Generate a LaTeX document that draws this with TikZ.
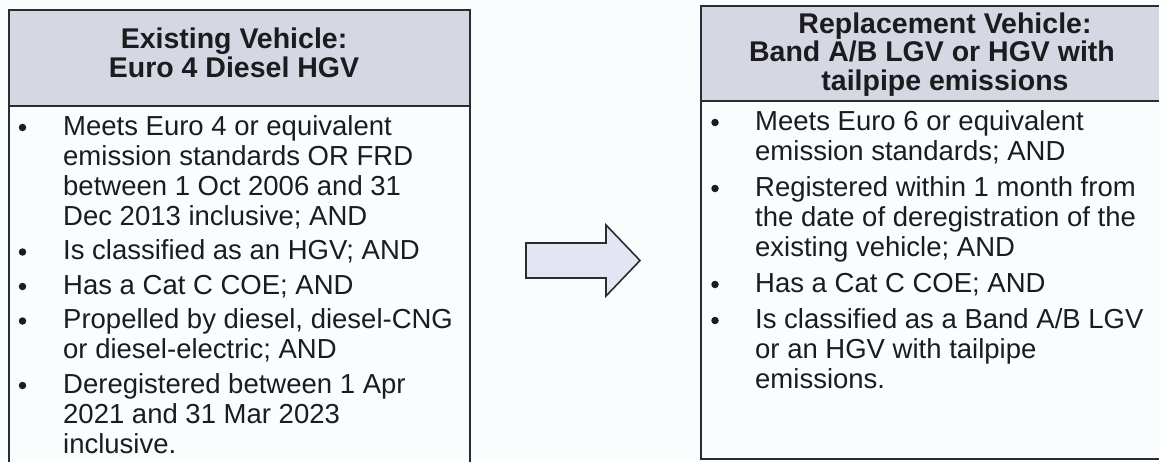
\documentclass[tikz,border=0pt]{standalone}
\usepackage{fontspec}
\setmainfont{Liberation Sans}
\definecolor{bgcol}{HTML}{FAFDFD}
\definecolor{hdrfill}{HTML}{D5D8E3}
\definecolor{arrfill}{HTML}{E3E5F2}
\definecolor{linecol}{HTML}{2A2C30}
\definecolor{txtcol}{HTML}{1C1C1E}
\begin{document}
\begin{tikzpicture}[x=1pt,y=-1pt,
  frame/.style={draw=linecol, line width=1.7pt},
  bodytxt/.style={anchor=base west, inner sep=0pt, font=\fontsize{27.5}{30}\selectfont, text=txtcol},
  hdtxt/.style={anchor=base, inner sep=0pt, font=\bfseries\fontsize{28.5}{30}\selectfont, text=txtcol},
  bul/.style={circle, fill=txtcol, inner sep=0pt, minimum size=7.5pt},
  blockarrow/.style={draw=linecol, line width=1.6pt, fill=arrfill, line join=miter}]
\useasboundingbox (0,0) rectangle (1159,461);
\clip (0,0) rectangle (1159,461);
\fill[bgcol] (0,0) rectangle (1159,461);
% left box
\fill[hdrfill] (9,10) rectangle (470,106);
\draw[frame] (9,480) -- (9,10) -- (470,10) -- (470,480);
\draw[frame] (9,106) -- (470,106);
\node[hdtxt] (lh1) at (234,48) {Existing Vehicle:};
\node[hdtxt] (lh2) at (234,77) {Euro 4 Diesel HGV};
% left bullets
\node[bul] (lb1) at (22.5,127.5) {};
\node[bodytxt] (l1) at (63,135) {Meets Euro 4 or equivalent};
\node[bodytxt] (l2) at (63,165) {emission standards OR FRD};
\node[bodytxt] (l3) at (63,195) {between 1 Oct 2006 and 31};
\node[bodytxt] (l4) at (63,225) {Dec 2013 inclusive; AND};
\node[bul] (lb2) at (22.5,252) {};
\node[bodytxt] (l5) at (63,259.5) {Is classified as an HGV; AND};
\node[bul] (lb3) at (22.5,286.5) {};
\node[bodytxt] (l6) at (63,294) {Has a Cat C COE; AND};
\node[bul] (lb4) at (22.5,321) {};
\node[bodytxt] (l7) at (63,328.5) {Propelled by diesel, diesel-CNG};
\node[bodytxt] (l8) at (63,358.5) {or diesel-electric; AND};
\node[bul] (lb5) at (22.5,385.5) {};
\node[bodytxt] (l9) at (63,393) {Deregistered between 1 Apr};
\node[bodytxt] (l10) at (63,423) {2021 and 31 Mar 2023};
\node[bodytxt] (l11) at (63,453) {inclusive.};
% arrow
\draw[blockarrow] (526,243) -- (606,243) -- (606,225) -- (640,260.5) -- (606,296) -- (606,278) -- (526,278) -- cycle;
% right box
\fill[hdrfill] (701,6) rectangle (1185,101);
\draw[frame] (701,459) rectangle (1185,6);
\draw[frame] (701,101) -- (1185,101);
\node[hdtxt] (rh1) at (945,33) {Replacement Vehicle:};
\node[hdtxt] (rh2) at (932,61.5) {Band A/B LGV or HGV with};
\node[hdtxt] (rh3) at (945,90) {tailpipe emissions};
\node[bul] (rb1) at (715,122.5) {};
\node[bodytxt] (r1) at (755,130) {Meets Euro 6 or equivalent};
\node[bodytxt] (r2) at (755,160) {emission standards; AND};
\node[bul] (rb2) at (715,188.5) {};
\node[bodytxt] (r3) at (755,196) {Registered within 1 month from};
\node[bodytxt] (r4) at (755,226) {the date of deregistration of the};
\node[bodytxt] (r5) at (755,256) {existing vehicle; AND};
\node[bul] (rb3) at (715,284.5) {};
\node[bodytxt] (r6) at (755,292) {Has a Cat C COE; AND};
\node[bul] (rb4) at (715,320.5) {};
\node[bodytxt] (r7) at (755,328) {Is classified as a Band A/B LGV};
\node[bodytxt] (r8) at (755,358) {or an HGV with tailpipe};
\node[bodytxt] (r9) at (755,388) {emissions.};
\end{tikzpicture}
\end{document}
